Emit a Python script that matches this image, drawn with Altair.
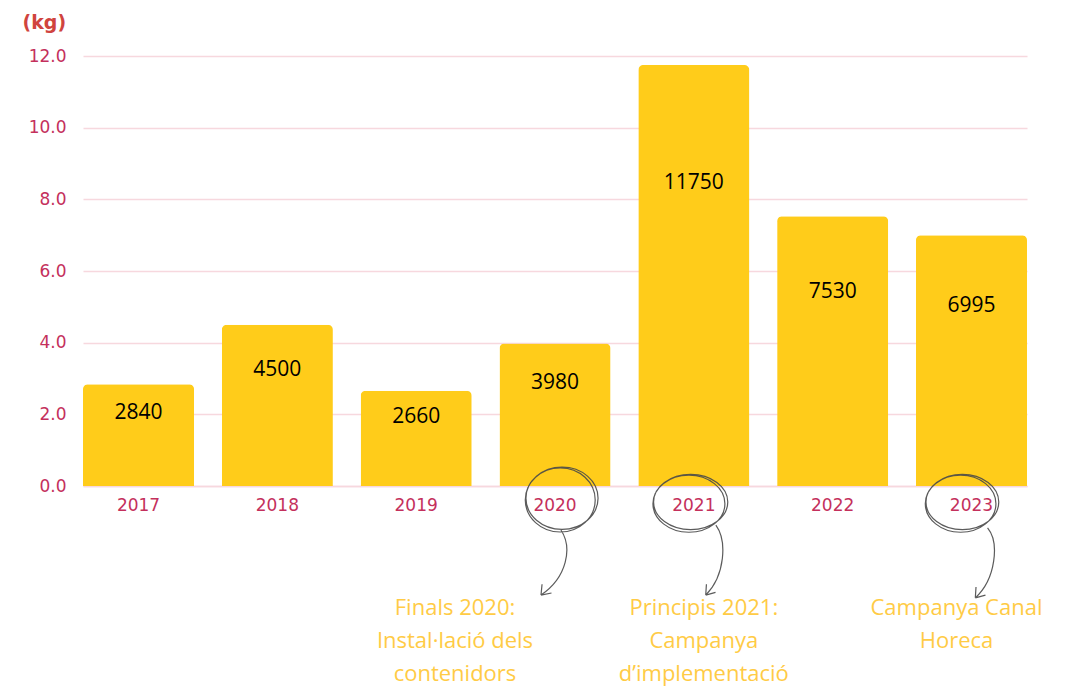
import altair as alt
import pandas as pd

years = ["2017", "2018", "2019", "2020", "2021", "2022", "2023"]
values_kg = [2840, 4500, 2660, 3980, 11750, 7530, 6995]

note_years = ["2020", "2021", "2023"]
note_texts = [
    "Finals 2020:\nInstal·lació dels\ncontenidors",
    "Principis 2021:\nCampanya\nd’implementació",
    "Campanya Canal\nHoreca",
]

YELLOW = "#FFCC1A"
AXIS_RED = "#C4305C"
GRID = "#F7D8DE"
NOTE = "#FFCB45"
PEN = "#4A4A4A"

df = pd.DataFrame({"year": years, "kg": values_kg})


def ellipse(cx, cy, rx, ry):
    k = 0.5523
    return (
        f"M{cx+rx:.3f},{cy:.3f} "
        f"C{cx+rx:.3f},{cy+k*ry:.3f} {cx+k*rx:.3f},{cy+ry:.3f} {cx:.3f},{cy+ry:.3f} "
        f"C{cx-k*rx:.3f},{cy+ry:.3f} {cx-rx:.3f},{cy+k*ry:.3f} {cx-rx:.3f},{cy:.3f} "
        f"C{cx-rx:.3f},{cy-k*ry:.3f} {cx-k*rx:.3f},{cy-ry:.3f} {cx:.3f},{cy-ry:.3f} "
        f"C{cx+k*rx:.3f},{cy-ry:.3f} {cx+rx:.3f},{cy-k*ry:.3f} {cx+rx:.3f},{cy:.3f} "
    )


def doodle(cx, cy, rx, ry, arrow):
    return (
        ellipse(cx, cy, rx, ry)
        + ellipse(cx - 0.05, cy + 0.05, rx * 0.97, ry * 1.03)
        + arrow
    )


# hand-drawn circle + arrow decorations (style only, placed on the band scale)
doodle_paths = [
    doodle(0.2, -0.91, 1.03, 0.89,
           "M0.17,0 C0.5,0.5 0.35,1.35 -0.4,1.86 M-0.4,1.86 L-0.37,1.55 M-0.4,1.86 L-0.1,1.8"),
    doodle(-0.09, -0.8, 1.06, 0.79,
           "M0.63,-0.14 C0.95,0.3 0.9,1.3 0.34,1.86 M0.34,1.86 L0.36,1.55 M0.34,1.86 L0.62,1.78"),
    doodle(-0.26, -0.8, 1.04, 0.79,
           "M0.46,-0.06 C0.8,0.35 0.7,1.4 0.11,1.94 M0.11,1.94 L0.13,1.63 M0.11,1.94 L0.4,1.86"),
]
notes = pd.DataFrame({"year": note_years, "note": note_texts})

x_enc = alt.X(
    "year:N",
    sort=years,
    scale=alt.Scale(paddingInner=0.2, paddingOuter=0),
    axis=alt.Axis(
        title=None, labelAngle=0, labelFont="DejaVu Sans", labelFontSize=17,
        labelColor=AXIS_RED, labelPadding=11, ticks=False, domain=True,
        domainColor=GRID, domainWidth=1.5, grid=False,
    ),
)

base = alt.Chart(df).transform_calculate(t="datum.kg / 1000", ty="datum.kg / 1000 * 0.72")

bars = base.mark_bar(color=YELLOW, cornerRadiusTopLeft=5, cornerRadiusTopRight=5).encode(
    x=x_enc,
    y=alt.Y(
        "t:Q",
        scale=alt.Scale(domain=[0, 12]),
        axis=alt.Axis(
            title="(kg)", titleAngle=0, titleAlign="left", titleBaseline="middle",
            titleX=-61, titleY=-34, titleFont="DejaVu Sans", titleFontSize=19,
            titleFontWeight=600, titleColor="#D0443E",
            values=[0, 2, 4, 6, 8, 10, 12], format=".1f",
            labelFont="DejaVu Sans", labelFontSize=17, labelColor=AXIS_RED,
            labelPadding=17, ticks=False, domain=False,
            gridColor=GRID, gridWidth=1.5,
        ),
    ),
)

labels = base.mark_text(font="Open Sans", fontSize=21, color="black", baseline="middle").encode(
    x=alt.X("year:N", sort=years),
    y=alt.Y("ty:Q"),
    text=alt.Text("kg:Q", format="d"),
)

decor = alt.Chart(notes).mark_point(
    filled=False, stroke=PEN, strokeWidth=1.2, opacity=0.9, size=4900
).encode(
    x=alt.X("year:N", sort=years),
    y=alt.value(474),
    shape=alt.Shape("year:N", scale=alt.Scale(domain=note_years, range=doodle_paths), legend=None),
)

note_dx = {"2020": -100, "2021": 10, "2023": -15}
note_layers = []
for yr in note_years:
    note_layers.append(
        alt.Chart(notes).transform_filter(alt.datum.year == yr).mark_text(
            font="Open Sans", fontSize=22, color=NOTE, lineBreak="\n",
            lineHeight=33, baseline="middle", align="center", dx=note_dx[yr],
        ).encode(
            x=alt.X("year:N", sort=years),
            y=alt.value(552),
            text="note:N",
        )
    )

chart = alt.layer(bars, labels, decor, *note_layers).properties(
    width=944, height=430,
    autosize=alt.AutoSizeParams(type="none"),
    padding={"left": 83, "top": 56, "right": 44, "bottom": 204},
    background="white",
).configure_view(stroke=None)

chart.save("out.html", embed_options={"renderer": "svg", "actions": False})
